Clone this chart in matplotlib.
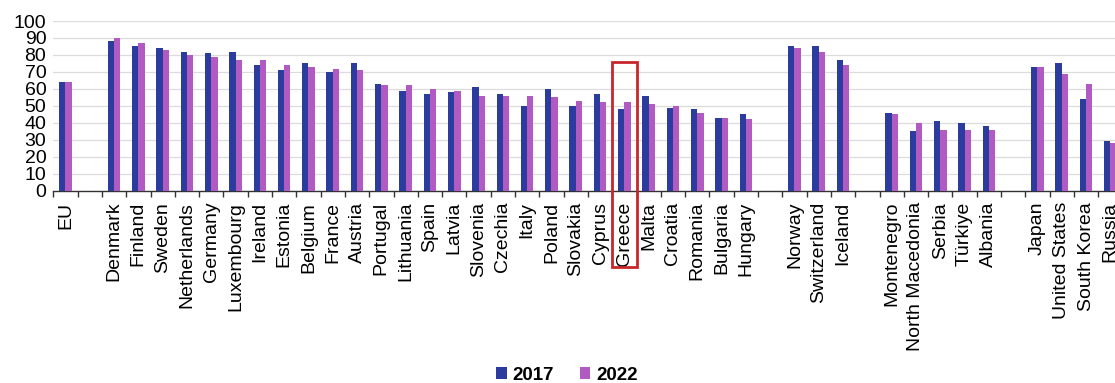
import numpy as np
import matplotlib
matplotlib.use("Agg")
import matplotlib.pyplot as plt
from matplotlib.patches import Rectangle

plt.rcParams['font.family'] = ['Liberation Sans', 'DejaVu Sans']

# groups of categories (a blank slot separates groups)
groups = [
    ["EU"],
    ["Denmark", "Finland", "Sweden", "Netherlands", "Germany", "Luxembourg",
     "Ireland", "Estonia", "Belgium", "France", "Austria", "Portugal",
     "Lithuania", "Spain", "Latvia", "Slovenia", "Czechia", "Italy", "Poland",
     "Slovakia", "Cyprus", "Greece", "Malta", "Croatia", "Romania",
     "Bulgaria", "Hungary"],
    ["Norway", "Switzerland", "Iceland"],
    ["Montenegro", "North Macedonia", "Serbia", "Türkiye", "Albania"],
    ["Japan", "United States", "South Korea", "Russia"],
]
values_2017 = [
    [64],
    [88, 85, 84, 82, 81, 82, 74, 71, 75, 70, 75, 63, 59, 57, 58, 61, 57, 50,
     60, 50, 57, 48, 56, 49, 48, 43, 45],
    [85, 85, 77],
    [46, 35, 41, 40, 38],
    [73, 75, 54, 29],
]
values_2022 = [
    [64],
    [90, 87, 83, 80, 79, 77, 77, 74, 73, 72, 71, 62, 62, 60, 59, 56, 56, 56,
     55, 53, 52, 52, 51, 50, 46, 43, 42],
    [84, 82, 74],
    [45, 40, 36, 36, 36],
    [73, 69, 63, 28],
]
highlight = "Greece"
yticks = list(range(0, 101, 10))

# flatten with blank gap slots between groups
cats, a, b = [], [], []
for gi, (g, v1, v2) in enumerate(zip(groups, values_2017, values_2022)):
    if gi > 0:
        cats.append("")
        a.append(np.nan)
        b.append(np.nan)
    cats += g
    a += v1
    b += v2
a = np.array(a, float)
b = np.array(b, float)
x = np.arange(len(cats))

c17 = "#2B3C9E"
c22 = "#B05AC2"

fig = plt.figure(figsize=(11.15, 3.83), dpi=100)
W, H = 1115, 383
slot = 24.3
left_px, bottom_px, top_px = 53.3, 190.7, 21.0
ax = fig.add_axes([left_px / W, 1 - bottom_px / H,
                   len(cats) * slot / W, (bottom_px - top_px) / H])

bw = 0.26
ax.bar(x - bw / 2, a, width=bw, color=c17, label="2017", zorder=3)
ax.bar(x + bw / 2, b, width=bw, color=c22, label="2022", zorder=3)

ax.set_xlim(-0.5, len(cats) - 0.5)
ax.set_ylim(0, 100)
ax.set_yticks(yticks)
ax.set_yticklabels([str(t) for t in yticks], fontsize=14)
ax.tick_params(axis='y', length=0, pad=5)
ax.yaxis.grid(True, color="#dcdcdc", linewidth=0.9, zorder=0)
ax.set_axisbelow(True)

# major ticks at slot boundaries, labels at slot centres
ax.set_xticks(np.arange(len(cats) + 1) - 0.5)
ax.set_xticklabels([])
ax.set_xticks(x, minor=True)
ax.set_xticklabels(cats, minor=True, rotation=90, fontsize=14, va='top')
ax.tick_params(axis='x', which='major', direction='out', length=4.5,
               width=1, color="#333333")
ax.tick_params(axis='x', which='minor', length=0, pad=8)

for s in ["left", "right", "top"]:
    ax.spines[s].set_visible(False)
ax.spines["bottom"].set_color("#333333")
ax.spines["bottom"].set_linewidth(1.0)

# highlight box around Greece
gi = cats.index(highlight)
ax.add_patch(Rectangle((gi - 0.5, -45), 1.0, 76 + 45, fill=False,
                       edgecolor="#C8262C", linewidth=2, clip_on=False,
                       zorder=5))

fig.legend(loc="center", bbox_to_anchor=(567 / W, 1 - 375 / H), ncol=2,
           frameon=False, prop={'weight': 'bold', 'size': 13.5},
           handlelength=0.55, handleheight=0.55, handletextpad=0.3,
           columnspacing=1.4)

fig.savefig("out.png", dpi=100)
